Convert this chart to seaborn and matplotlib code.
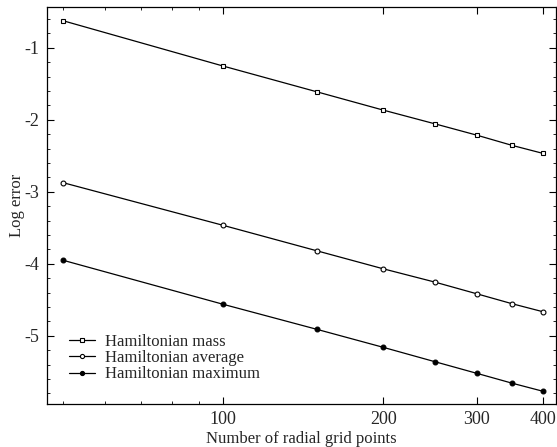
import numpy as np
import pandas as pd
import matplotlib
matplotlib.use("Agg")
import matplotlib.pyplot as plt
from matplotlib.ticker import FixedLocator, NullFormatter, MultipleLocator, LogLocator
import seaborn as sns

grid_points = [50, 100, 150, 200, 250, 300, 350, 400]
mass_err = [-0.625, -1.254, -1.611, -1.865, -2.055, -2.213, -2.356, -2.467]
avg_err = [-2.875, -3.467, -3.820, -4.070, -4.254, -4.417, -4.556, -4.667]
max_err = [-3.953, -4.564, -4.911, -5.161, -5.360, -5.522, -5.660, -5.772]
series_names = ["Hamiltonian mass", "Hamiltonian average", "Hamiltonian maximum"]
x_ticks = [100, 200, 300, 400]
y_ticks = [-1, -2, -3, -4, -5]

sns.set_theme(style="ticks")
plt.rcParams["font.family"] = ["Liberation Serif", "DejaVu Serif"]

df = pd.DataFrame({
    "N": grid_points * 3,
    "err": mass_err + avg_err + max_err,
    "series": sum([[s] * len(grid_points) for s in series_names], []),
})

fig = plt.figure(figsize=(5.57, 4.47), dpi=100)
ax = fig.add_axes([0.0838, 0.096, 0.9142, 0.888])

styles = {
    series_names[0]: dict(marker="s", mfc="white", ms=3.5),
    series_names[1]: dict(marker="o", mfc="white", ms=3.5),
    series_names[2]: dict(marker="o", mfc="black", ms=3.5),
}
for name in series_names:
    sub = df[df["series"] == name]
    st = styles[name]
    sns.lineplot(data=sub, x="N", y="err", ax=ax, color="black", lw=0.9,
                 marker=st["marker"], markersize=st["ms"],
                 markerfacecolor=st["mfc"], markeredgecolor="black",
                 markeredgewidth=0.8, label=name)

ax.set_xscale("log")
ax.set_xlim(46.5, 423)
ax.set_ylim(-5.95, -0.435)
ax.xaxis.set_major_locator(FixedLocator(x_ticks))
ax.set_xticklabels([str(t) for t in x_ticks])
ax.xaxis.set_minor_locator(LogLocator(base=10, subs=np.arange(1, 10)))
ax.xaxis.set_minor_formatter(NullFormatter())
ax.yaxis.set_major_locator(FixedLocator(y_ticks))
ax.set_yticklabels([f"-{abs(t)}" for t in y_ticks])
ax.yaxis.set_minor_locator(MultipleLocator(0.2))

ax.tick_params(which="both", direction="in", top=True, right=True,
               labelsize=13, color="black")
ax.tick_params(which="major", length=5, width=0.8, pad=5)
ax.tick_params(which="minor", length=2.5, width=0.6)
for sp in ax.spines.values():
    sp.set_linewidth(0.9)
    sp.set_color("black")

ax.set_xlabel("Number of radial grid points", fontsize=12, labelpad=2)
ax.set_ylabel("Log error", fontsize=12, labelpad=0)

leg = ax.legend(loc="lower left", bbox_to_anchor=(0.02, 0.025), frameon=False,
                fontsize=12, handlelength=1.6, handletextpad=0.6,
                labelspacing=0.02, borderaxespad=0.3, markerscale=0.85)

fig.savefig("out.png", dpi=100)
